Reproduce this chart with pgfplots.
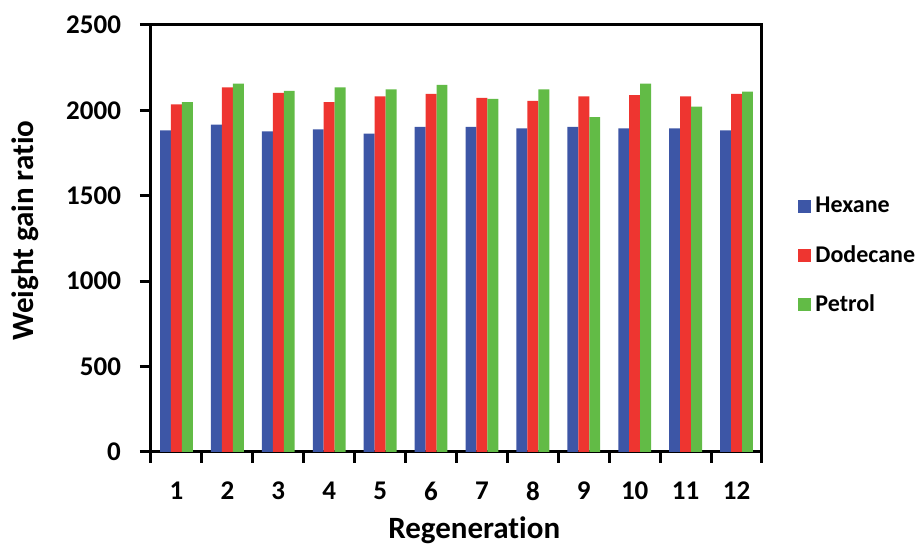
\documentclass[border=0pt]{standalone}
\usepackage{fontspec}
\setmainfont{Carlito}[Ligatures=NoCommon]
\usepackage{pgfplots}
\pgfplotsset{compat=1.18}

\definecolor{hexblue}{RGB}{61,86,166}
\definecolor{dodred}{RGB}{238,53,48}
\definecolor{petgreen}{RGB}{98,187,70}

\begin{document}
\begin{tikzpicture}
\path[use as bounding box] (-75.5pt,-46pt) rectangle (383pt,226pt);
\begin{axis}[
    scale only axis,
    width=305.5pt, height=213.5pt,
    ybar=0pt, bar width=0.215,
    xmin=0.5, xmax=12.5,
    ymin=0, ymax=2500,
    xtick={0.5,1.5,...,12.5},
    x tick label as interval,
    xticklabels={1,2,3,4,5,6,7,8,9,10,11,12},
    ytick={0,500,1000,1500,2000,2500},
    tick pos=left,
    tick align=outside,
    major tick length=5.5pt,
    axis line style={line width=1.5pt},
    every tick/.style={black, line width=1.5pt},
    /pgf/number format/assume math mode=true,
    /pgf/number format/1000 sep={},
    tick label style={font=\bfseries\fontsize{13.5}{15}\selectfont},
    xticklabel style={yshift=-6pt},
    yticklabel style={xshift=-6pt},
    xlabel={Regeneration},
    ylabel={Weight gain ratio},
    label style={font=\bfseries\fontsize{15.5}{18}\selectfont},
    xlabel style={at={(axis description cs:0.529,-0.203)}, anchor=base},
    ylabel style={at={(axis description cs:-0.193,0.518)}, anchor=base},
    legend style={draw=none, fill=none, at={(axis description cs:1.059,0.459)},
        anchor=west, font=\bfseries\fontsize{12}{14}\selectfont,
        row sep=10.75pt, inner sep=0pt},
    legend cell align=left,
    legend image code/.code={\fill[#1] (0pt,-3.25pt) rectangle (6.5pt,3.25pt);},
]
\addplot[fill=hexblue, draw=none] coordinates {
    (1,1883) (2,1916) (3,1877) (4,1889) (5,1864) (6,1903)
    (7,1903) (8,1895) (9,1903) (10,1895) (11,1895) (12,1883)
};
\addlegendentry{Hexane}
\addplot[fill=dodred, draw=none] coordinates {
    (1,2035) (2,2135) (3,2102) (4,2049) (5,2082) (6,2096)
    (7,2074) (8,2055) (9,2082) (10,2090) (11,2082) (12,2096)
};
\addlegendentry{Dodecane}
\addplot[fill=petgreen, draw=none] coordinates {
    (1,2049) (2,2156) (3,2115) (4,2135) (5,2123) (6,2150)
    (7,2068) (8,2123) (9,1961) (10,2156) (11,2022) (12,2110)
};
\addlegendentry{Petrol}
\end{axis}
\end{tikzpicture}
\end{document}
